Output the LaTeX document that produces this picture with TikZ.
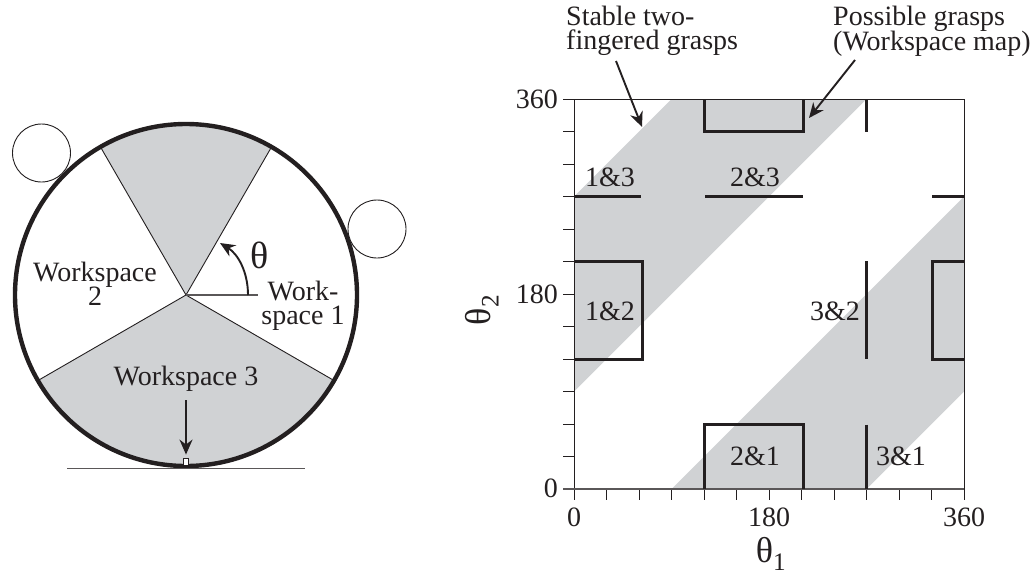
\documentclass[tikz,border=0pt]{standalone}
\usepackage{fontspec}
\setmainfont{Liberation Serif}
\usetikzlibrary{arrows.meta}
\definecolor{band}{RGB}{208,210,212}
\definecolor{ink}{RGB}{35,31,32}
\tikzset{
  lbl/.style={font=\fontsize{28}{25}\selectfont, text=ink, inner sep=0pt, align=center},
  greek/.style={font=\fontsize{38}{38}\selectfont, text=ink, inner sep=0pt},
  thin line/.style={draw=ink, line width=0.9pt},
  axis line/.style={draw=ink!75, line width=1.2pt},
  heavy/.style={draw=ink, line width=3pt, line cap=butt, line join=miter},
  arr/.style={draw=ink, line width=1.9pt, -{Stealth[length=15pt,width=13pt]}},
  finger/.style={draw=ink, line width=0.9pt, fill=white, circle, minimum size=58pt, inner sep=0pt},
}
\begin{document}
\begin{tikzpicture}[x=1pt,y=-1pt]
\useasboundingbox (0,0) rectangle (1033,576);
% ---- left: disc
\coordinate (C) at (186,295);
\fill[band] (C) -- (100.5,147) arc[start angle=240,end angle=300,radius=171] -- cycle;
\fill[band] (C) -- (38,380.5) arc[start angle=150,end angle=30,radius=171] -- cycle;
\draw[thin line] (100.5,147) -- (C) -- (271.5,147);
\draw[thin line] (38,380.5) -- (C) -- (334,380.5);
\draw[axis line] (C) -- (258,295);
\draw[draw=ink, line width=4.4pt] (C) ++(-171,0) arc[start angle=180,end angle=-180,radius=171];
\node[finger] (f1) at (41.5,153) {};
\node[finger] (f2) at (377,229) {};
\draw[axis line] (67,468.5) -- (305,468.5);
\node[draw=ink, fill=white, line width=0.8pt, minimum width=5pt, minimum height=7pt, inner sep=0pt] (contact) at (186,461.5) {};
\coordinate (wsarrow) at (186,400);
\draw[arr, shorten >=3pt] (wsarrow) -- (contact.north);
\coordinate (t0) at (248,295);
\coordinate (t1) at (220,243);
\draw[arr] (t0) .. controls (248,272) and (238,254) .. (t1);
\node[greek] (theta) at (260,255) {θ};
\node[lbl] (w1) at (303,306) {Work-\\[-1pt]space 1};
\node[lbl] (w2) at (95,284) {Workspace\\[-1pt]2};
\node[lbl] (w3) at (186,379) {Workspace 3};
% ---- right: map
\fill[band] (574,391.5) -- (866.5,99) -- (671.5,99) -- (574,196.5) -- cycle;
\fill[band] (671.5,489) -- (866.5,489) -- (964,391.5) -- (964,196.5) -- cycle;
\draw[thin line] (574,99) rectangle (964,489);
\foreach \i in {0,...,12} {
  \draw[thin line] (563,99+32.5*\i) -- (574,99+32.5*\i);
  \draw[thin line] (574+32.5*\i,489) -- (574+32.5*\i,500);
}
\draw[axis line] (563,489) -- (964,489);
\draw[heavy] (704,99) -- (704,131.5) -- (803,131.5) -- (803,99);
\draw[heavy] (866.5,99) -- (866.5,131.5);
\draw[heavy] (574,196.5) -- (641,196.5);
\draw[heavy] (705,196.5) -- (803,196.5);
\draw[heavy] (932,196.5) -- (964,196.5);
\draw[heavy] (574,261) -- (642,261) -- (642,359) -- (574,359);
\draw[heavy] (964,261) -- (932,261) -- (932,359) -- (964,359);
\draw[heavy] (866.5,261) -- (866.5,359);
\draw[heavy] (704,489) -- (704,424.5) -- (803,424.5) -- (803,489);
\draw[heavy] (866.5,424.5) -- (866.5,489);
\node[lbl] (l13) at (610,177) {1\&3};
\node[lbl] (l23) at (755,177) {2\&3};
\node[lbl] (l12) at (610,311) {1\&2};
\node[lbl] (l32) at (835,311) {3\&2};
\node[lbl] (l21) at (755,456) {2\&1};
\node[lbl] (l31) at (901,456) {3\&1};
\node[lbl, anchor=east] (y360) at (558,99) {360};
\node[lbl, anchor=east] (y180) at (558,294) {180};
\node[lbl, anchor=east] (y0) at (558,488) {0};
\node[lbl] (x0) at (574,517) {0};
\node[lbl] (x180) at (769,517) {180};
\node[lbl] (x360) at (964,517) {360};
\node[greek, font=\fontsize{36}{36}\selectfont] (th1) at (771,554) {θ\textsubscript{1}};
\node[greek, font=\fontsize{36}{36}\selectfont, rotate=90] (th2) at (482,310) {θ\textsubscript{2}};
\node[lbl, align=left, anchor=west] (stable) at (566,31) {Stable two-\\[-1pt]fingered grasps};
\node[lbl, align=left, anchor=west] (poss) at (833,31) {Possible grasps\\[-1pt](Workspace map)};
\coordinate (a1) at (616,61);
\coordinate (a1e) at (642,127);
\coordinate (a2) at (855,60);
\coordinate (a2e) at (809,118);
\draw[arr] (a1) -- (a1e);
\draw[arr] (a2) -- (a2e);
\end{tikzpicture}
\end{document}
